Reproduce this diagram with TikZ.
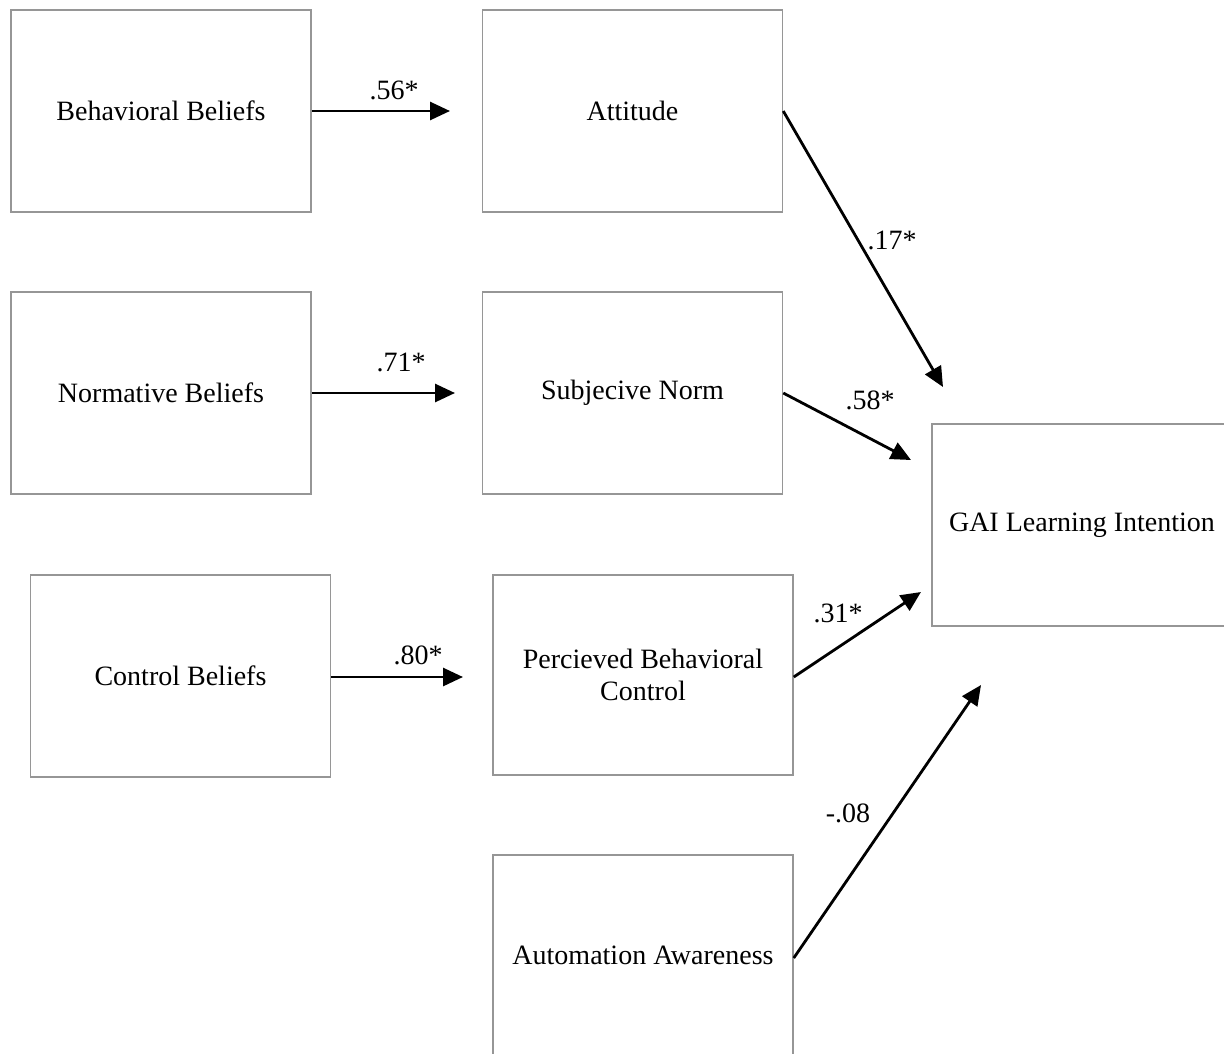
\documentclass[tikz,border=0pt]{standalone}
\usepackage{fontspec}
\setmainfont{Liberation Serif}
\usetikzlibrary{arrows.meta}
\definecolor{boxgray}{RGB}{150,150,150}
\begin{document}
\begin{tikzpicture}[x=1pt,y=-1pt,
  box/.style={draw=boxgray,line width=1.5pt,minimum width=300pt,minimum height=202pt,inner sep=0pt,align=center,
    font=\fontsize{28}{32}\selectfont},
  conn/.style={line width=2.8pt,-{Triangle[length=20pt,width=18pt]}},
  lab/.style={font=\fontsize{28}{32}\selectfont,inner sep=0pt}]
\useasboundingbox (0,0) rectangle (1224,1053);
\clip (0,0) rectangle (1224,1053);
\node[box] (bb) at (161,111) {Behavioral Beliefs};
\node[box] (att) at (632.5,111) {Attitude};
\node[box] (nb) at (161,393) {Normative Beliefs};
\node[box] (sn) at (632.5,393) {Subjecive Norm};
\node[box] (cb) at (180.5,676) {Control Beliefs};
\node[box,minimum height=200pt] (pbc) at (643,675) {Percieved Behavioral\\Control};
\node[box,minimum height=200pt] (aa) at (643,955) {Automation Awareness};
\node[box] (gai) at (1082,525) {GAI Learning Intention};
\coordinate (t1) at (450,111);
\coordinate (t2) at (455,393);
\coordinate (t3) at (463,677);
\coordinate (t4) at (943,387);
\coordinate (t5) at (911,460);
\coordinate (t6) at (921,592);
\coordinate (t7) at (981,685);
\draw[conn] (bb.east) -- (t1);
\draw[conn] (nb.east) -- (t2);
\draw[conn] (cb.east |- t3) -- (t3);
\draw[conn] (att.east) -- (t4);
\draw[conn] (sn.east) -- (t5);
\draw[conn] (pbc.east |- 0,677) -- (t6);
\draw[conn] (aa.east |- 0,958) -- (t7);
\node[lab] (l1) at (394,90) {.56*};
\node[lab] (l2) at (401,362) {.71*};
\node[lab] (l3) at (418,655) {.80*};
\node[lab] (l4) at (892,240) {.17*};
\node[lab] (l5) at (870,400) {.58*};
\node[lab] (l6) at (838,613) {.31*};
\node[lab] (l7) at (848,813) {-.08};
\end{tikzpicture}
\end{document}
